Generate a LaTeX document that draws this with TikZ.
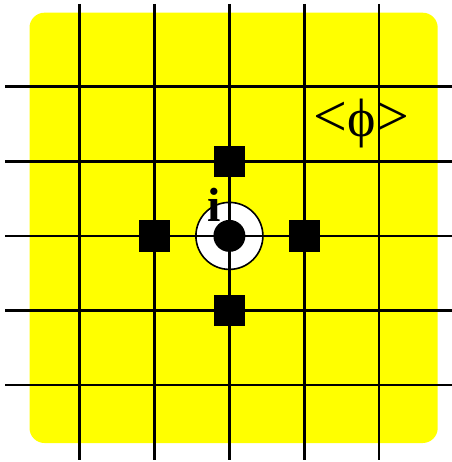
\documentclass[tikz,border=0pt]{standalone}
\usepackage{fontspec}
\setmainfont{Liberation Serif}
\usetikzlibrary{positioning}
\definecolor{board}{RGB}{255,255,0}
\tikzset{
  gridline/.style={line width=2.7pt},
  site/.style={fill=black, minimum size=31.5pt, inner sep=0pt},
}
\begin{document}
\begin{tikzpicture}[x=1pt,y=-1pt]
\useasboundingbox (0,0) rectangle (451,462);
\fill[board, rounded corners=15pt] (29.5,12.7) rectangle (437.7,443);

\node[circle, draw, fill=white, line width=1.6pt, minimum size=67pt, inner sep=0pt] (ring) at (229.4,235.9) {};
\foreach \k in {0,...,4} {
  \draw[gridline] ({79.7+74.85*\k},4) -- ({79.7+74.85*\k},460);
  \draw[gridline] (5,{86.7+74.6*\k}) -- (455,{86.7+74.6*\k});
}
\node[circle, fill=black, minimum size=32pt, inner sep=0pt] (core) at (ring) {};

\node[site] (north) at (229.4,161.3) {};
\node[site] (south) at (229.4,310.5) {};
\node[site] (west) at (154.55,235.9) {};
\node[site] (east) at (304.25,235.9) {};

\node[font=\fontsize{48}{48}\selectfont\bfseries, inner sep=0pt, anchor=base] (label) at (214,221) {i};
\node[font=\fontsize{60}{60}\selectfont, inner sep=0pt, anchor=base] (field) at (361.5,137)
  {<{\fontsize{54}{54}\selectfont ϕ}>};
\end{tikzpicture}
\end{document}
